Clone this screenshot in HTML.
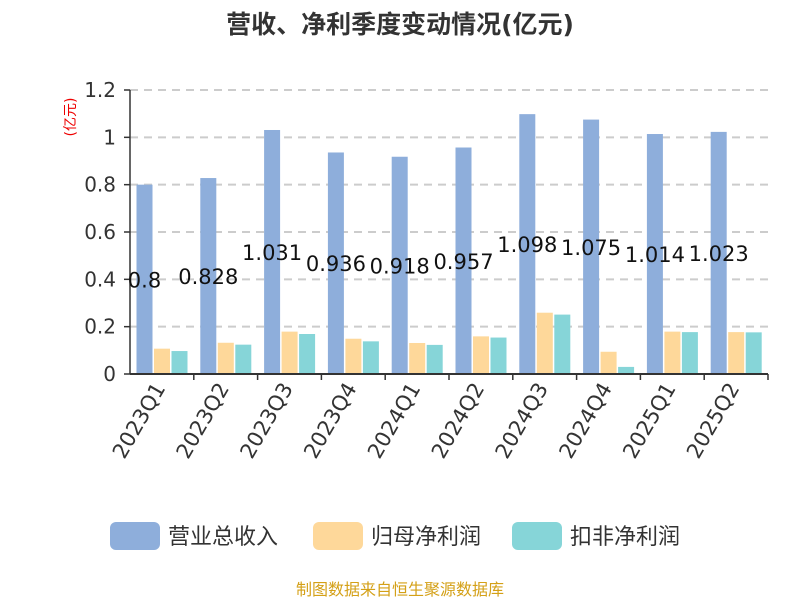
<!DOCTYPE html>
<html><head><meta charset="utf-8"><style>
body{margin:0;background:#fff;font-family:"DejaVu Sans","Noto Sans CJK SC",sans-serif;}
</style></head><body>
<svg id="chart" width="800" height="600" xmlns="http://www.w3.org/2000/svg" font-family="DejaVu Sans, Noto Sans CJK SC, sans-serif">
<text x="400" y="33" text-anchor="middle" font-size="25" font-weight="bold" fill="#333">营收、净利季度变动情况(亿元)</text>
<text transform="translate(75,117) rotate(-90)" text-anchor="middle" font-size="14" fill="#e00">(亿元)</text>
<g id="grid"></g><g id="bars"></g><g id="axes"></g><g id="labels"></g>
<g>
<g><rect x="110" y="522" width="50" height="28" rx="6" fill="#8eaedb"/><text x="168" y="544" font-size="22" fill="#333">营业总收入</text></g>
<g><rect x="313" y="522" width="50" height="28" rx="6" fill="#fed89a"/><text x="371" y="544" font-size="22" fill="#333">归母净利润</text></g>
<g><rect x="512" y="522" width="50" height="28" rx="6" fill="#86d5d8"/><text x="570" y="544" font-size="22" fill="#333">扣非净利润</text></g>
</g>
<text x="400" y="595" text-anchor="middle" font-size="16" fill="#d4a017">制图数据来自恒生聚源数据库</text>
</svg>
<script>
const categories=["2023Q1","2023Q2","2023Q3","2023Q4","2024Q1","2024Q2","2024Q3","2024Q4","2025Q1","2025Q2"];
const revenue=[0.8,0.828,1.031,0.936,0.918,0.957,1.098,1.075,1.014,1.023];
const netProfit=[0.107,0.132,0.179,0.149,0.131,0.159,0.259,0.094,0.179,0.177];
const deductedProfit=[0.097,0.124,0.169,0.138,0.123,0.154,0.251,0.030,0.177,0.176];
const yTicks=[0,0.2,0.4,0.6,0.8,1,1.2];
const yTickLabels=["0","0.2","0.4","0.6","0.8","1","1.2"];
const NS="http://www.w3.org/2000/svg";
const x0=130,x1=768,yb=374,yt=90,ymax=1.2;
const cw=(x1-x0)/categories.length;
const y=v=>yb-(v/ymax)*(yb-yt);
const xc=i=>x0+cw*i;
function mk(t,a,p){const e=document.createElementNS(NS,t);for(const k in a)e.setAttribute(k,a[k]);p.appendChild(e);return e;}
const grid=document.getElementById('grid'),bars=document.getElementById('bars'),axes=document.getElementById('axes'),labels=document.getElementById('labels');
yTicks.forEach((v,i)=>{
  if(v>0){const l=mk('line',{x1:x0,x2:x1,y1:y(v),y2:y(v),stroke:'#ccc','stroke-width':2,'stroke-dasharray':'8,6'},grid);
  
  }
  const t=mk('text',{x:x0-14,y:y(v)+7,'text-anchor':'end','font-size':20,fill:'#333'},axes);
  t.textContent=yTickLabels[i];
  
  
  mk('line',{x1:x0-6,x2:x0,y1:y(v),y2:y(v),stroke:'#333','stroke-width':1.5},axes);
});
mk('line',{x1:x0,x2:x0,y1:yt,y2:yb,stroke:'#333','stroke-width':1.5},axes);
mk('line',{x1:x0,x2:x1,y1:yb,y2:yb,stroke:'#333','stroke-width':2},axes);
const series=[[revenue,'#8eaedb','bar-revenue'],[netProfit,'#fed89a','bar-net-profit'],[deductedProfit,'#86d5d8','bar-deducted-profit']];
const bw=16,gap=1.5,off=6.5;
categories.forEach((c,i)=>{
  mk('line',{x1:xc(i+1),x2:xc(i+1),y1:yb,y2:yb+6,stroke:'#333','stroke-width':1.5},axes);
  series.forEach((s,j)=>{
    const v=s[0][i];const bx=xc(i)+off+j*(bw+gap);
    const r=mk('rect',{x:bx,y:y(v),width:bw,height:yb-y(v),fill:s[1]},bars);
    
    
  });
  const lx=xc(i)+off+bw/2;
  const vl=mk('text',{x:lx,y:(y(revenue[i])+yb)/2+8,'text-anchor':'middle','font-size':21,fill:'#111'},labels);
  vl.textContent=String(revenue[i]);
  
  
  const cx=xc(i)+cw/2+4;
  const tl=mk('text',{x:cx,y:yb+14,'text-anchor':'end','font-size':21,fill:'#333',transform:`rotate(-60 ${cx} ${yb+14})`},axes);
  tl.textContent=c;
  
  
});
</script>
</body></html>
